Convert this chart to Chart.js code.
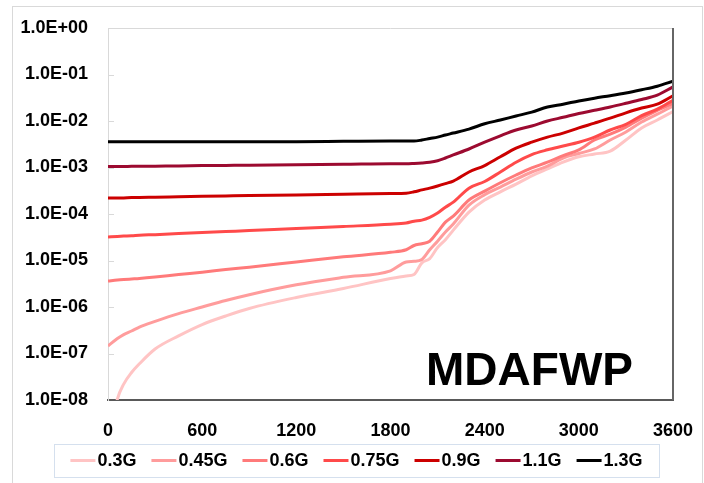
<!DOCTYPE html>
<html lang="en">
<head>
<meta charset="UTF-8">
<title>MDAFWP</title>
<script src="https://cdn.jsdelivr.net/npm/chart.js@4"></script>
<style>
  html, body { margin: 0; padding: 0; background: #fff; }
</style>
</head>
<body>
<canvas id="chart" width="704" height="483"></canvas>
<script>
// time axis (s) shared by every curve
const times = [0, 60, 100, 150, 200, 300, 450, 600, 750, 900, 1200, 1500, 1800, 1900, 1950, 2000, 2050, 2100, 2150,
               2200, 2300, 2400, 2500, 2600, 2700, 2800, 2900, 3000, 3100, 3200, 3300, 3400, 3500, 3600];

const g030 = [1e-9, 1.05e-8, 2.2e-8, 3.9e-8, 6.0e-8, 1.25e-7, 2.4e-7, 4.2e-7, 6.4e-7, 9.3e-7, 1.6e-6, 2.5e-6, 4.1e-6, 4.65e-6, 5.0e-6, 8.9e-6, 1.1e-5, 1.9e-5, 2.8e-5,
              4.5e-5, 1.1e-4, 2.0e-4, 3.0e-4, 4.4e-4, 6.6e-4, 9.3e-4, 1.3e-3, 1.7e-3, 1.95e-3, 2.25e-3, 3.9e-3, 7.1e-3, 1.05e-2, 1.6e-2];
const g045 = [1.45e-7, 2.1e-7, 2.55e-7, 3.05e-7, 3.7e-7, 4.9e-7, 7.2e-7, 1.0e-6, 1.38e-6, 1.84e-6, 3.0e-6, 4.35e-6, 6.0e-6, 9.3e-6, 9.6e-6, 1.05e-5, 1.7e-5, 2.6e-5, 4.1e-5,
              6.1e-5, 1.55e-4, 2.6e-4, 3.8e-4, 5.6e-4, 8.0e-4, 1.07e-3, 1.6e-3, 2.0e-3, 2.5e-3, 3.9e-3, 5.8e-3, 9.5e-3, 1.4e-2, 2.1e-2];
const g060 = [3.6e-6, 3.8e-6, 3.9e-6, 4.0e-6, 4.1e-6, 4.4e-6, 5.0e-6, 5.6e-6, 6.4e-6, 7.2e-6, 9.3e-6, 1.2e-5, 1.5e-5, 1.7e-5, 2.1e-5, 2.3e-5, 2.6e-5, 4.1e-5, 6.7e-5,
              9.0e-5, 2.0e-4, 3.1e-4, 4.7e-4, 6.9e-4, 9.8e-4, 1.3e-3, 1.8e-3, 2.4e-3, 3.9e-3, 5.2e-3, 7.4e-3, 1.15e-2, 1.7e-2, 2.4e-2];
const g075 = [3.2e-5, 3.3e-5, 3.35e-5, 3.4e-5, 3.5e-5, 3.6e-5, 3.8e-5, 4.0e-5, 4.2e-5, 4.4e-5, 4.9e-5, 5.4e-5, 6.0e-5, 6.4e-5, 7.0e-5, 7.4e-5, 8.5e-5, 1.05e-4, 1.4e-4,
              1.8e-4, 3.6e-4, 5.0e-4, 8.0e-4, 1.3e-3, 1.9e-3, 2.4e-3, 2.9e-3, 3.5e-3, 4.5e-3, 6.4e-3, 8.5e-3, 1.3e-2, 1.8e-2, 2.8e-2];
const g090 = [2.2e-4, 2.2e-4, 2.22e-4, 2.25e-4, 2.27e-4, 2.3e-4, 2.35e-4, 2.4e-4, 2.45e-4, 2.5e-4, 2.55e-4, 2.65e-4, 2.75e-4, 2.8e-4, 3.0e-4, 3.3e-4, 3.6e-4, 4.0e-4, 4.5e-4,
              5.1e-4, 8.0e-4, 1.1e-3, 1.7e-3, 2.6e-3, 3.5e-3, 4.5e-3, 5.5e-3, 7.1e-3, 9.0e-3, 1.15e-2, 1.5e-2, 1.9e-2, 2.3e-2, 3.5e-2];
const g110 = [1.05e-3, 1.05e-3, 1.05e-3, 1.06e-3, 1.06e-3, 1.07e-3, 1.08e-3, 1.1e-3, 1.11e-3, 1.12e-3, 1.15e-3, 1.17e-3, 1.2e-3, 1.2e-3, 1.22e-3, 1.25e-3, 1.3e-3, 1.4e-3, 1.6e-3,
              1.86e-3, 2.5e-3, 3.5e-3, 4.8e-3, 6.4e-3, 7.8e-3, 1.0e-2, 1.2e-2, 1.45e-2, 1.7e-2, 2.0e-2, 2.4e-2, 2.9e-2, 3.6e-2, 5.4e-2];
const g130 = [3.6e-3, 3.6e-3, 3.6e-3, 3.6e-3, 3.6e-3, 3.6e-3, 3.6e-3, 3.6e-3, 3.6e-3, 3.6e-3, 3.6e-3, 3.65e-3, 3.7e-3, 3.7e-3, 3.7e-3, 3.9e-3, 4.2e-3, 4.5e-3, 5.0e-3,
              5.5e-3, 6.7e-3, 8.7e-3, 1.05e-2, 1.28e-2, 1.55e-2, 2.0e-2, 2.3e-2, 2.7e-2, 3.1e-2, 3.5e-2, 4.0e-2, 4.7e-2, 5.6e-2, 7.2e-2];

const seriesNames = ['0.3G', '0.45G', '0.6G', '0.75G', '0.9G', '1.1G', '1.3G'];
const seriesValues = [g030, g045, g060, g075, g090, g110, g130];
const seriesColors = ['#ffc4c4', '#ff9c9c', '#ff7a7a', '#ff4a4a', '#cc0000', '#9c0a30', '#000000'];

const xTicks = [0, 600, 1200, 1800, 2400, 3000, 3600];
const xTickLabels = ['0', '600', '1200', '1800', '2400', '3000', '3600'];
const yTicks = [1e-8, 1e-7, 1e-6, 1e-5, 1e-4, 1e-3, 1e-2, 1e-1, 1];
const yTickLabels = ['1.0E-08', '1.0E-07', '1.0E-06', '1.0E-05', '1.0E-04', '1.0E-03', '1.0E-02', '1.0E-01', '1.0E+00'];

const FONT = '"Liberation Sans", Arial, sans-serif';

const datasets = seriesNames.map((name, i) => ({
  label: name,
  data: times.map((t, j) => ({ x: t, y: seriesValues[i][j] })),
  borderColor: seriesColors[i],
  backgroundColor: seriesColors[i],
  borderWidth: 3,
  pointRadius: 0,
  cubicInterpolationMode: 'monotone',
  order: seriesNames.length - i
}));

// frame, inner ticks, big label and boxed legend
const decorations = {
  id: 'decorations',
  beforeDraw(chart) {
    const ctx = chart.ctx;
    ctx.save();
    ctx.fillStyle = '#fff';
    ctx.fillRect(0, 0, chart.width, chart.height);
    ctx.strokeStyle = '#d9d9d9';
    ctx.lineWidth = 1;
    ctx.strokeRect(12.5, 6.5, 690, 500);
    ctx.restore();
  },
  afterDraw(chart) {
    const ctx = chart.ctx;
    const a = chart.chartArea;
    const y = chart.scales.y;
    ctx.save();

    // top border and short inner ticks on the value axis
    ctx.strokeStyle = '#d9d9d9';
    ctx.lineWidth = 1;
    ctx.beginPath();
    ctx.moveTo(a.left, a.top + 0.5);
    ctx.lineTo(a.right, a.top + 0.5);
    yTicks.slice(1, -1).forEach(v => {
      const py = Math.round(y.getPixelForValue(v)) + 0.5;
      ctx.moveTo(a.left, py);
      ctx.lineTo(a.left + 6, py);
    });
    ctx.stroke();

    // right border
    ctx.strokeStyle = '#666';
    ctx.lineWidth = 2;
    ctx.beginPath();
    ctx.moveTo(a.right, a.top);
    ctx.lineTo(a.right, a.bottom);
    ctx.stroke();

    // label inside the plot
    ctx.fillStyle = '#000';
    ctx.font = 'bold 46px ' + FONT;
    ctx.textAlign = 'right';
    ctx.textBaseline = 'alphabetic';
    ctx.fillText('MDAFWP', 633, 385);

    // legend box
    const box = { left: 54, top: 444, right: 659, bottom: 477 };
    ctx.strokeStyle = '#d5e0ee';
    ctx.lineWidth = 1;
    ctx.strokeRect(box.left + 0.5, box.top + 0.5, box.right - box.left, box.bottom - box.top);

    ctx.font = 'bold 18px ' + FONT;
    ctx.textAlign = 'left';
    ctx.textBaseline = 'middle';
    const lineLen = 25, gap = 2, itemGap = 15;
    const widths = chart.data.datasets.map(d => ctx.measureText(d.label).width);
    const total = widths.reduce((s, w) => s + w + lineLen + gap, 0) + itemGap * (widths.length - 1);
    let x = (box.left + box.right) / 2 - total / 2;
    const cy = (box.top + box.bottom) / 2;
    chart.data.datasets.forEach((d, i) => {
      ctx.strokeStyle = d.borderColor;
      ctx.lineWidth = 3;
      ctx.beginPath();
      ctx.moveTo(x, cy);
      ctx.lineTo(x + lineLen, cy);
      ctx.stroke();
      ctx.fillStyle = '#000';
      ctx.fillText(d.label, x + lineLen + gap, cy + 1);
      x += lineLen + gap + widths[i] + itemGap;
    });
    ctx.restore();
  }
};

new Chart(document.getElementById('chart'), {
  type: 'line',
  data: { datasets },
  options: {
    responsive: false,
    animation: false,
    devicePixelRatio: 1,
    layout: { padding: { left: 0, right: 31, top: 28, bottom: 0 } },
    plugins: {
      legend: { display: false },
      tooltip: { enabled: false }
    },
    scales: {
      x: {
        type: 'linear',
        min: 0,
        max: 3600,
        afterBuildTicks: s => { s.ticks = xTicks.map(v => ({ value: v })); },
        afterFit: s => { s.height = 83; s.paddingLeft = 0; s.paddingRight = 0; },
        grid: { drawOnChartArea: false, drawTicks: false },
        border: { display: true, color: '#595959', width: 2 },
        ticks: {
          padding: 20,
          color: '#000',
          font: { family: FONT, size: 18, weight: 'bold' },
          maxRotation: 0,
          autoSkip: false,
          callback: (v, i) => xTickLabels[i]
        }
      },
      y: {
        type: 'logarithmic',
        min: 1e-8,
        max: 1,
        afterBuildTicks: s => { s.ticks = yTicks.map(v => ({ value: v })); },
        afterFit: s => { s.width = 108; s.paddingTop = 0; s.paddingBottom = 0; },
        grid: { drawOnChartArea: false, drawTicks: false },
        border: { display: true, color: '#d9d9d9', width: 1 },
        ticks: {
          padding: 20,
          color: '#000',
          font: { family: FONT, size: 18, weight: 'bold' },
          callback: (v, i) => yTickLabels[i]
        }
      }
    }
  },
  plugins: [decorations]
});
</script>
</body>
</html>
